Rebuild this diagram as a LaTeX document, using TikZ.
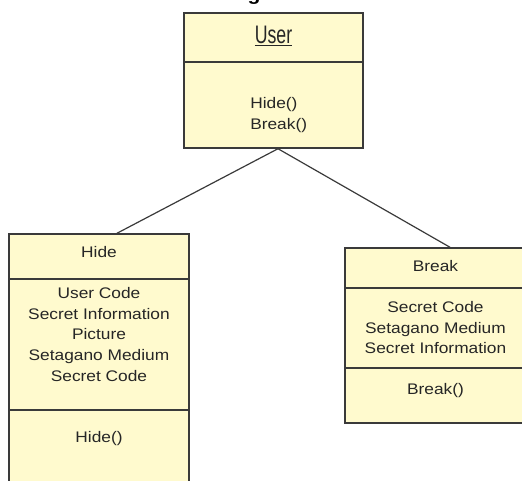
\documentclass[tikz,border=0pt]{standalone}
\usepackage{fontspec}
\setmainfont[FakeStretch=1.13]{Liberation Sans}
\newfontfamily\titlefont[FakeStretch=0.70]{Liberation Sans}
\usetikzlibrary{fit,calc}

\definecolor{classfill}{RGB}{255,250,206}
\definecolor{classline}{RGB}{58,58,58}
\definecolor{classtext}{RGB}{38,38,38}

\tikzset{
  compartment/.style={draw=classline, line width=1.1pt, fill=classfill, inner sep=0pt},
  member/.style={text=classtext, align=center, inner sep=0pt,
    font=\fontsize{11.5pt}{15.5pt}\selectfont},
  assoc/.style={draw=classline, line width=0.9pt}
}

\begin{document}
\begin{tikzpicture}[x=0.75pt,y=-0.75pt]
  \useasboundingbox (0,0) rectangle (522,481);

  % heading, cut by the top edge
  \node[anchor=base, inner sep=0pt, font=\bfseries\fontsize{14pt}{16pt}\selectfont] (heading) at (254,1) {g};

  % User class
  \node[compartment, fit={(184,13) (363,62)}] (userHead) {};
  \node[compartment, fit={(184,62) (363,148)}] (userOps) {};
  \node[anchor=base, inner sep=0pt, text=classtext, font=\titlefont\fontsize{19pt}{20pt}\selectfont] (userTitle) at (273.5,43.3) {\underline{User}};
  \node[member, align=left, anchor=north west] (userOpsText) at (250,97) {Hide()\\Break()};

  % Hide class
  \node[compartment, fit={(9,234) (189,279)}] (hideHead) {};
  \node[compartment, fit={(9,279) (189,410)}] (hideAttr) {};
  \node[compartment, fit={(9,410) (189,500)}] (hideOps) {};
  \node[member] (hideTitle) at (99,252) {Hide};
  \node[member, anchor=north] (hideAttrText) at (99,287.2) {User Code\\Secret Information\\Picture\\Setagano Medium\\Secret Code};
  \node[member, anchor=base] (hideOpsText) at (99,442) {Hide()};

  % Break class
  \node[compartment, fit={(345,248) (526,288)}] (breakHead) {};
  \node[compartment, fit={(345,288) (526,368)}] (breakAttr) {};
  \node[compartment, fit={(345,368) (526,423)}] (breakOps) {};
  \node[member] (breakTitle) at (435.5,266.5) {Break};
  \node[member, anchor=north] (breakAttrText) at (435.5,301.2) {Secret Code\\Setagano Medium\\Secret Information};
  \node[member, anchor=base] (breakOpsText) at (435.5,395) {Break()};

  % associations
  \draw[assoc] ($(userOps.south)+(4.5,0)$) -- ($(hideHead.north)+(18,0)$);
  \draw[assoc] ($(userOps.south)+(4.5,0)$) -- ($(breakHead.north)+(14.5,0)$);
\end{tikzpicture}
\end{document}
